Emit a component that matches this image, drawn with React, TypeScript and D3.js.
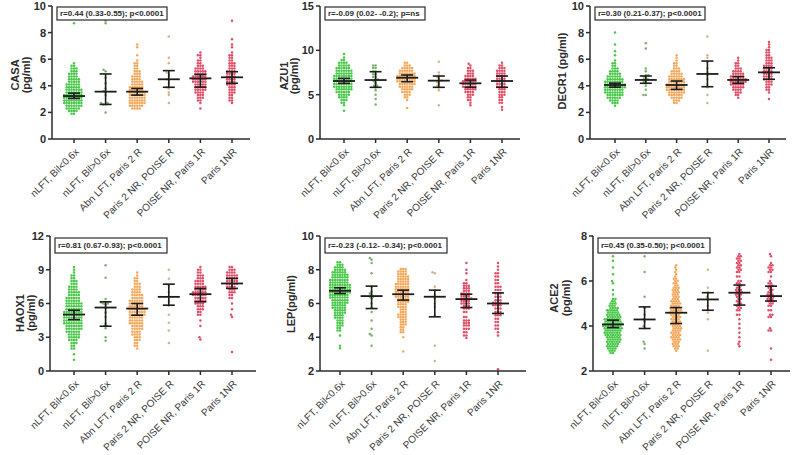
import React from "react";
import * as d3 from "d3";

type Entry = number | [number, number];

const GROUPS = [
  "nLFT, Bil<0.6x",
  "nLFT, Bil>0.6x",
  "Abn LFT, Paris 2 R",
  "Paris 2 NR, POISE R",
  "POISE NR, Paris 1R",
  "Paris 1NR",
];

// ---------- CASA ----------
const CASA_TICKS = [0, 2, 4, 6, 8, 10];
const CASA_STAT = "r=0.44 (0.33-0.55); p<0.0001";
const CASA_G1: Entry[] = [[1.9,2],[2.1,4],[2.3,6],[2.5,7],[2.7,8],[2.9,8],[3.1,8],[3.3,8],[3.5,7],[3.7,7],[3.9,6],[4.1,6],[4.3,5],[4.5,5],[4.7,4],[4.9,4],[5.1,3],[5.3,3],[5.5,2],[5.7,1],[8.7,1]];
const CASA_G2: Entry[] = [2.0, 2.6, 2.6, 2.7, 2.7, 3.3, 3.5, 3.6, 3.8, 4.2, 4.6, 5.1, 5.2, 8.7, 8.9];
const CASA_G3: Entry[] = [[2.3,4],[2.5,6],[2.7,7],[2.9,7],[3.1,7],[3.3,7],[3.5,7],[3.7,6],[3.9,6],[4.1,5],[4.3,5],[4.5,4],[4.7,4],[4.9,3],[5.1,3],[5.3,2],[5.5,2],[5.7,2],[5.9,1],[6.3,1],[6.9,1],[7.1,1]];
const CASA_G4: Entry[] = [2.7, 3.3, 3.5, 3.8, 3.9, 4.2, 4.4, 4.5, 4.7, 4.9, 5.0, 5.7, 6.1, 7.7];
const CASA_G5: Entry[] = [[2.3,1],[2.7,1],[2.9,2],[3.1,3],[3.3,3],[3.5,4],[3.7,5],[3.9,5],[4.1,5],[4.3,6],[4.5,6],[4.7,6],[4.9,5],[5.1,5],[5.3,4],[5.5,3],[5.7,2],[5.9,2],[6.1,1],[6.3,2],[6.5,1]];
const CASA_G6: Entry[] = [[2.7,1],[2.9,2],[3.1,2],[3.3,2],[3.5,3],[3.7,3],[3.9,3],[4.1,4],[4.3,4],[4.5,4],[4.7,4],[4.9,4],[5.1,4],[5.3,3],[5.5,3],[5.7,3],[5.9,2],[6.1,2],[6.3,2],[6.5,1],[6.9,1],[7.1,1],[7.5,1],[8.9,1]];
const CASA_MED = [3.23, 3.56, 3.56, 4.49, 4.56, 4.64];
const CASA_LO = [3.05, 2.6, 3.3, 3.89, 3.9, 4.19];
const CASA_HI = [3.45, 4.89, 3.8, 5.14, 4.85, 5.06];

// ---------- AZU1 ----------
const AZU1_TICKS = [0, 5, 10, 15];
const AZU1_STAT = "r=-0.09 (0.02- -0.2); p=ns";
const AZU1_G1: Entry[] = [[3.2,1],[3.8,1],[4.1,2],[4.4,3],[4.7,4],[5.0,5],[5.3,6],[5.6,7],[5.9,8],[6.2,8],[6.5,8],[6.8,8],[7.1,8],[7.4,7],[7.7,7],[8.0,6],[8.3,5],[8.6,4],[8.9,2],[9.2,1],[9.6,1]];
const AZU1_G2: Entry[] = [3.9, 4.5, 5.0, 5.5, 5.8, 6.0, 6.0, 6.3, 6.5, 6.7, 6.7, 7.0, 7.0, 7.3, 7.3, 7.6, 7.6, 8.0, 8.0, 8.3, 8.3];
const AZU1_G3: Entry[] = [[3.5,1],[4.4,1],[4.7,2],[5.0,3],[5.3,4],[5.6,5],[5.9,6],[6.2,7],[6.5,8],[6.8,8],[7.1,8],[7.4,7],[7.7,6],[8.0,5],[8.3,3],[8.6,2]];
const AZU1_G4: Entry[] = [3.8, 5.5, 5.8, 6.0, 6.2, 6.4, 6.5, 6.6, 6.8, 7.0, 7.2, 7.5, 8.7];
const AZU1_G5: Entry[] = [[3.8,1],[4.1,1],[4.4,2],[4.7,2],[5.0,3],[5.3,4],[5.6,5],[5.9,6],[6.2,6],[6.5,6],[6.8,5],[7.1,4],[7.4,3],[7.7,3],[8.0,2],[8.3,1],[8.5,1]];
const AZU1_G6: Entry[] = [[3.3,1],[3.6,1],[4.1,2],[4.4,2],[4.7,2],[5.0,3],[5.3,3],[5.6,3],[5.9,4],[6.2,4],[6.5,4],[6.8,4],[7.1,4],[7.4,4],[7.7,4],[8.0,3],[8.3,2],[8.6,1]];
const AZU1_MED = [6.54, 6.65, 6.91, 6.58, 6.28, 6.54];
const AZU1_LO = [6.28, 5.83, 6.46, 5.83, 5.83, 5.83];
const AZU1_HI = [6.84, 7.59, 7.22, 7.1, 6.65, 7.1];

// ---------- DECR1 ----------
const DECR1_TICKS = [0, 2, 4, 6, 8, 10];
const DECR1_STAT = "r=0.30 (0.21-0.37); p<0.0001";
const DECR1_G1: Entry[] = [[2.5,1],[2.7,3],[2.9,4],[3.1,6],[3.3,7],[3.5,8],[3.7,8],[3.9,9],[4.1,9],[4.3,8],[4.5,7],[4.7,6],[4.9,5],[5.1,4],[5.3,3],[5.5,2],[5.7,2],[5.9,1],[6.3,1],[6.6,1],[7.1,1],[8.0,1]];
const DECR1_G2: Entry[] = [3.3, 3.3, 3.7, 4.0, 4.2, 4.3, 4.4, 4.5, 4.5, 4.6, 4.7, 4.8, 4.8, 5.1, 5.3, 6.8, 7.2];
const DECR1_G3: Entry[] = [[2.7,2],[2.9,3],[3.1,5],[3.3,6],[3.5,7],[3.7,8],[3.9,8],[4.1,8],[4.3,7],[4.5,7],[4.7,6],[4.9,5],[5.1,4],[5.3,3],[5.5,2],[5.7,2],[5.9,1],[6.1,1],[6.3,1]];
const DECR1_G4: Entry[] = [2.7, 3.3, 3.9, 4.1, 4.5, 4.8, 5.0, 5.3, 5.8, 6.1, 6.3, 7.7];
const DECR1_G5: Entry[] = [[3.1,1],[3.3,2],[3.5,3],[3.7,4],[3.9,5],[4.1,6],[4.3,7],[4.5,7],[4.7,6],[4.9,5],[5.1,4],[5.3,3],[5.5,2],[5.7,2],[5.9,1],[6.1,1]];
const DECR1_G6: Entry[] = [[3.0,1],[3.5,1],[3.7,2],[3.9,2],[4.1,3],[4.3,3],[4.5,4],[4.7,4],[4.9,4],[5.1,4],[5.3,4],[5.5,4],[5.7,3],[5.9,3],[6.1,3],[6.3,2],[6.5,2],[6.7,2],[6.9,1],[7.1,1],[7.3,1]];
const DECR1_MED = [4.06, 4.44, 4.06, 4.89, 4.44, 5.01];
const DECR1_LO = [3.9, 4.19, 3.73, 3.93, 4.19, 4.49];
const DECR1_HI = [4.2, 4.74, 4.36, 5.86, 4.69, 5.36];

// ---------- HAOX1 ----------
const HAOX1_TICKS = [0, 3, 6, 9, 12];
const HAOX1_STAT = "r=0.81 (0.67-0.93); p<0.0001";
const HAOX1_G1: Entry[] = [[1.0,1],[1.5,1],[2.0,2],[2.25,2],[2.5,3],[2.75,4],[3.0,5],[3.25,5],[3.5,6],[3.75,7],[4.0,7],[4.25,8],[4.5,8],[4.75,8],[5.0,8],[5.25,8],[5.5,7],[5.75,7],[6.0,7],[6.25,6],[6.5,6],[6.75,5],[7.0,5],[7.25,4],[7.5,4],[7.75,3],[8.0,3],[8.25,2],[8.5,2],[8.75,1],[9.0,1],[9.25,1]];
const HAOX1_G2: Entry[] = [2.7, 3.0, 3.8, 4.0, 4.0, 4.2, 4.8, 5.2, 5.6, 5.9, 6.0, 6.0, 6.1, 6.4, 8.3, 9.4];
const HAOX1_G3: Entry[] = [[2.0,1],[2.25,2],[2.5,2],[2.75,3],[3.0,3],[3.25,4],[3.5,4],[3.75,5],[4.0,5],[4.25,6],[4.5,6],[4.75,6],[5.0,7],[5.25,7],[5.5,7],[5.75,6],[6.0,6],[6.25,6],[6.5,5],[6.75,5],[7.0,4],[7.25,4],[7.5,3],[7.75,3],[8.0,2],[8.25,2],[8.5,1],[8.75,1]];
const HAOX1_G4: Entry[] = [2.5, 3.6, 4.3, 5.0, 5.8, 6.2, 6.6, 7.0, 7.6, 8.2, 9.0];
const HAOX1_G5: Entry[] = [[2.8,1],[3.0,1],[4.0,1],[4.5,1],[5.0,2],[5.25,2],[5.5,3],[5.75,3],[6.0,4],[6.25,5],[6.5,5],[6.75,6],[7.0,6],[7.25,5],[7.5,5],[7.75,4],[8.0,4],[8.25,3],[8.5,3],[8.75,2],[9.0,2],[9.25,1]];
const HAOX1_G6: Entry[] = [[1.7,1],[4.8,1],[5.0,1],[5.5,1],[6.0,1],[6.5,2],[6.75,2],[7.0,3],[7.25,3],[7.5,4],[7.75,5],[8.0,5],[8.25,5],[8.5,5],[8.75,4],[9.0,3],[9.25,2]];
const HAOX1_MED = [5.02, 5.64, 5.55, 6.59, 6.83, 7.78];
const HAOX1_LO = [4.57, 3.98, 4.96, 5.85, 6.15, 7.34];
const HAOX1_HI = [5.4, 6.15, 6.0, 7.72, 7.34, 8.23];

// ---------- LEP ----------
const LEP_TICKS = [2, 4, 6, 8, 10];
const LEP_STAT = "r=-0.23 (-0.12- -0.34); p<0.0001";
const LEP_G1: Entry[] = [[3.35,1],[3.5,1],[4.1,1],[4.4,2],[4.55,2],[4.7,3],[4.85,3],[5.0,3],[5.15,4],[5.3,4],[5.45,5],[5.6,5],[5.75,6],[5.9,6],[6.05,7],[6.2,7],[6.35,8],[6.5,8],[6.65,9],[6.8,9],[6.95,9],[7.1,9],[7.25,8],[7.4,8],[7.55,7],[7.7,7],[7.85,6],[8.0,5],[8.15,4],[8.3,3],[8.45,2]];
const LEP_G2: Entry[] = [3.5, 4.1, 4.2, 4.5, 5.0, 5.5, 5.75, 6.0, 6.3, 6.4, 6.4, 6.5, 6.6, 6.7, 7.0, 7.8, 8.4, 8.6, 8.7];
const LEP_G3: Entry[] = [[3.15,1],[4.0,1],[4.3,2],[4.45,2],[4.6,2],[4.75,3],[4.9,3],[5.05,3],[5.2,4],[5.35,4],[5.5,3],[5.65,3],[5.8,4],[5.95,4],[6.1,5],[6.25,5],[6.4,6],[6.55,6],[6.7,6],[6.85,6],[7.0,6],[7.15,6],[7.3,5],[7.45,5],[7.6,5],[7.75,4],[7.9,4],[8.05,3]];
const LEP_G4: Entry[] = [2.6, 3.5, 5.3, 5.8, 6.0, 6.3, 6.5, 6.8, 7.0, 7.8, 7.85];
const LEP_G5: Entry[] = [[3.95,1],[4.1,2],[4.3,2],[4.5,3],[4.7,3],[4.85,3],[5.0,3],[5.2,2],[5.5,2],[5.7,3],[5.85,3],[6.0,4],[6.15,4],[6.3,5],[6.45,4],[6.6,4],[6.75,3],[6.9,3],[7.05,3],[7.2,2],[7.4,1],[7.8,1],[8.0,1],[8.4,1]];
const LEP_G6: Entry[] = [[2.1,1],[4.1,1],[4.3,1],[4.5,2],[4.7,2],[4.9,2],[5.1,2],[5.3,3],[5.5,3],[5.7,3],[5.9,4],[6.05,4],[6.2,3],[6.4,3],[6.6,3],[6.8,3],[7.0,3],[7.2,2],[7.4,2],[7.6,2],[7.8,2],[8.0,1],[8.2,1],[8.4,1]];
const LEP_MED = [6.75, 6.44, 6.55, 6.4, 6.26, 6.0];
const LEP_LO = [6.59, 5.7, 6.2, 5.21, 5.76, 5.41];
const LEP_HI = [6.93, 7.03, 6.79, 6.79, 6.55, 6.63];

// ---------- ACE2 ----------
const ACE2_TICKS = [2, 4, 6, 8];
const ACE2_STAT = "r=0.45 (0.35-0.50); p<0.0001";
const ACE2_G1: Entry[] = [[2.8,2],[2.9,3],[3.0,4],[3.1,5],[3.2,5],[3.3,6],[3.4,6],[3.5,6],[3.6,7],[3.7,7],[3.8,7],[3.9,8],[4.0,8],[4.1,8],[4.2,7],[4.3,7],[4.4,6],[4.5,6],[4.6,5],[4.7,5],[4.8,4],[4.9,3],[5.0,3],[5.1,2],[5.2,2],[5.4,1],[5.6,1],[5.9,1],[6.0,1],[6.3,1],[6.6,1],[6.9,1],[7.1,1],[7.3,1]];
const ACE2_G2: Entry[] = [3.0, 3.2, 3.3, 3.9, 4.0, 4.2, 4.3, 4.5, 4.8, 5.3, 6.4, 7.1];
const ACE2_G3: Entry[] = [[2.9,1],[3.0,2],[3.1,3],[3.2,3],[3.3,3],[3.4,4],[3.5,4],[3.6,4],[3.7,4],[3.8,4],[3.9,4],[4.0,4],[4.1,4],[4.2,4],[4.3,4],[4.4,4],[4.5,4],[4.6,5],[4.7,5],[4.8,5],[4.9,4],[5.0,4],[5.1,4],[5.2,3],[5.3,3],[5.4,3],[5.5,3],[5.6,3],[5.7,3],[5.8,2],[5.9,2],[6.0,2],[6.1,2],[6.2,1],[6.3,1],[6.4,1],[6.5,1],[6.6,1],[6.7,1]];
const ACE2_G4: Entry[] = [2.9, 4.3, 4.6, 4.9, 5.2, 5.3, 5.5, 5.7, 6.5];
const ACE2_G5: Entry[] = [[3.1,1],[3.2,1],[3.3,1],[3.5,1],[3.7,1],[3.9,1],[4.1,1],[4.3,1],[4.5,2],[4.7,2],[4.8,2],[4.9,2],[5.0,2],[5.1,2],[5.2,2],[5.3,2],[5.4,3],[5.5,3],[5.6,3],[5.7,2],[5.8,2],[5.9,2],[6.0,2],[6.2,2],[6.4,2],[6.5,2],[6.6,2],[6.7,2],[6.8,2],[6.9,2],[7.0,2],[7.1,2],[7.2,1]];
const ACE2_G6: Entry[] = [[2.5,1],[3.0,1],[3.8,2],[3.9,1],[4.4,2],[4.5,2],[4.7,2],[4.9,2],[5.0,2],[5.1,3],[5.2,3],[5.3,3],[5.4,3],[5.5,2],[5.6,2],[5.7,2],[5.8,2],[5.9,2],[6.0,1],[6.2,1],[6.4,2],[6.5,2],[6.6,2],[6.7,2],[6.8,1],[7.1,1],[7.2,1]];
const ACE2_MED = [4.07, 4.29, 4.59, 5.18, 5.48, 5.33];
const ACE2_LO = [3.93, 3.89, 4.11, 4.7, 4.93, 5.11];
const ACE2_HI = [4.26, 4.85, 4.82, 5.48, 5.82, 5.77];

// ---------- layout (styles only) ----------
const COLORS = ["#30c030", "#5c9e4c", "#f39c45", "#c4a070", "#dc3552", "#dc3552"];
const FONT = "'Liberation Sans', Arial, Helvetica, sans-serif";

interface Panel {
  title: string[];
  stat: string;
  ticks: number[];
  groups: Entry[][];
  med: number[];
  lo: number[];
  hi: number[];
  ax: number; xEnd: number; yTop: number; yBot: number;
  c0: number; c1: number;
  titleX: number[]; titleY: number;
  boxW: number; boxY: number; boxH: number;
}

const PANELS: Panel[] = [
  { title: ["CASA", "(pg/ml)"], stat: CASA_STAT, ticks: CASA_TICKS, groups: [CASA_G1, CASA_G2, CASA_G3, CASA_G4, CASA_G5, CASA_G6], med: CASA_MED, lo: CASA_LO, hi: CASA_HI,
    ax: 52, xEnd: 250, yTop: 6, yBot: 139, c0: 74, c1: 232, titleX: [15, 26], titleY: 75, boxW: 110, boxY: 7, boxH: 13 },
  { title: ["AZU1", "(pg/ml)"], stat: AZU1_STAT, ticks: AZU1_TICKS, groups: [AZU1_G1, AZU1_G2, AZU1_G3, AZU1_G4, AZU1_G5, AZU1_G6], med: AZU1_MED, lo: AZU1_LO, hi: AZU1_HI,
    ax: 320, xEnd: 520, yTop: 6, yBot: 139, c0: 344, c1: 502, titleX: [284, 294], titleY: 76, boxW: 100, boxY: 7, boxH: 13 },
  { title: ["DECR1 (pg/ml)"], stat: DECR1_STAT, ticks: DECR1_TICKS, groups: [DECR1_G1, DECR1_G2, DECR1_G3, DECR1_G4, DECR1_G5, DECR1_G6], med: DECR1_MED, lo: DECR1_LO, hi: DECR1_HI,
    ax: 590, xEnd: 786, yTop: 6, yBot: 139, c0: 615, c1: 769, titleX: [562], titleY: 71, boxW: 110, boxY: 7, boxH: 13 },
  { title: ["HAOX1", "(pg/ml)"], stat: HAOX1_STAT, ticks: HAOX1_TICKS, groups: [HAOX1_G1, HAOX1_G2, HAOX1_G3, HAOX1_G4, HAOX1_G5, HAOX1_G6], med: HAOX1_MED, lo: HAOX1_LO, hi: HAOX1_HI,
    ax: 50, xEnd: 256, yTop: 236, yBot: 371, c0: 74, c1: 232, titleX: [20, 31], titleY: 313, boxW: 112, boxY: 238, boxH: 15 },
  { title: ["LEP(pg/ml)"], stat: LEP_STAT, ticks: LEP_TICKS, groups: [LEP_G1, LEP_G2, LEP_G3, LEP_G4, LEP_G5, LEP_G6], med: LEP_MED, lo: LEP_LO, hi: LEP_HI,
    ax: 320, xEnd: 526, yTop: 236, yBot: 371, c0: 340, c1: 498, titleX: [291], titleY: 304, boxW: 122, boxY: 238, boxH: 15 },
  { title: ["ACE2", "(pg/ml)"], stat: ACE2_STAT, ticks: ACE2_TICKS, groups: [ACE2_G1, ACE2_G2, ACE2_G3, ACE2_G4, ACE2_G5, ACE2_G6], med: ACE2_MED, lo: ACE2_LO, hi: ACE2_HI,
    ax: 593, xEnd: 790, yTop: 236, yBot: 371, c0: 613, c1: 771, titleX: [554, 566], titleY: 298, boxW: 112, boxY: 238, boxH: 15 },
];

function expand(entries: Entry[]): number[] {
  const out: number[] = [];
  entries.forEach((e) => {
    if (typeof e === "number") out.push(e);
    else for (let i = 0; i < e[1]; i++) out.push(e[0]);
  });
  return out;
}

// deterministic beeswarm layout
function swarm(ys: number[], d: number): { y: number; dx: number }[] {
  const sorted = ys.slice().sort((a, b) => b - a);
  const placed: { y: number; dx: number }[] = [];
  sorted.forEach((y) => {
    const cands: number[] = [0];
    placed.forEach((q) => {
      const dy = Math.abs(q.y - y);
      if (dy < d) {
        const off = Math.sqrt(d * d - dy * dy);
        cands.push(q.dx + off, q.dx - off);
      }
    });
    cands.sort((a, b) => Math.abs(a) - Math.abs(b) || a - b);
    let chosen = 0;
    for (const c of cands) {
      let ok = true;
      for (const q of placed) {
        const dx = q.dx - c, dy = q.y - y;
        if (dx * dx + dy * dy < d * d - 1e-6) { ok = false; break; }
      }
      if (ok) { chosen = c; break; }
    }
    placed.push({ y, dx: chosen });
  });
  return placed;
}

function PanelView({ p }: { p: Panel }) {
  const dom = d3.extent(p.ticks) as [number, number];
  const y = d3.scaleLinear().domain(dom).range([p.yBot, p.yTop]);
  const x = d3.scalePoint<string>().domain(GROUPS).range([p.c0, p.c1]);
  const ink = "#2b2b2b";
  return (
    <g>
      {p.groups.map((g, gi) => {
        const cx = x(GROUPS[gi]) as number;
        const pts = swarm(expand(g).map((v) => y(v)), 2.45);
        return (
          <g key={"g" + gi} fill={COLORS[gi]} fillOpacity={gi === 1 || gi === 3 ? 0.8 : 0.88}>
            {pts.map((pt, i) => (
              <circle key={i} cx={cx + pt.dx} cy={pt.y} r={1.25} />
            ))}
          </g>
        );
      })}
      {GROUPS.map((gname, gi) => {
        const cx = x(gname) as number;
        return (
          <g key={"e" + gi} stroke="#1c1c1c" strokeWidth={1.6} fill="none">
            <line x1={cx} x2={cx} y1={y(p.lo[gi])} y2={y(p.hi[gi])} />
            <line x1={cx - 11} x2={cx + 11} y1={y(p.med[gi])} y2={y(p.med[gi])} strokeWidth={1.8} />
            <line x1={cx - 6} x2={cx + 6} y1={y(p.lo[gi])} y2={y(p.lo[gi])} />
            <line x1={cx - 6} x2={cx + 6} y1={y(p.hi[gi])} y2={y(p.hi[gi])} />
          </g>
        );
      })}
      <g stroke={ink} strokeWidth={1.5} fill="none">
        <line x1={p.ax} x2={p.ax} y1={p.yTop} y2={p.yBot} />
        <line x1={p.ax} x2={p.xEnd} y1={p.yBot} y2={p.yBot} />
        {p.ticks.map((t) => (
          <line key={t} x1={p.ax - 4} x2={p.ax} y1={y(t)} y2={y(t)} />
        ))}
        {GROUPS.map((gname) => (
          <line key={gname} x1={x(gname)} x2={x(gname)} y1={p.yBot} y2={p.yBot + 4} />
        ))}
      </g>
      {p.ticks.map((t) => (
        <text key={"t" + t} x={p.ax - 6} y={y(t)} dy="0.36em" textAnchor="end" fontSize={11} fontWeight="bold" fill={ink} fontFamily={FONT}>
          {t}
        </text>
      ))}
      {GROUPS.map((gname) => {
        const tx = (x(gname) as number) + 3;
        const ty = p.yBot + 11;
        return (
          <text key={"l" + gname} transform={`translate(${tx},${ty}) rotate(-45)`} textAnchor="end" dy="0.35em" fontSize={10} fill="#3a3a3a" fontFamily={FONT}>
            {gname}
          </text>
        );
      })}
      {p.title.map((line, i) => (
        <text key={"ti" + i} transform={`translate(${p.titleX[i]},${p.titleY}) rotate(-90)`} textAnchor="middle" dy="0.36em" fontSize={11} fontWeight="bold" fill={ink} fontFamily={FONT}>
          {line}
        </text>
      ))}
      <rect x={p.ax + 5} y={p.boxY} width={p.boxW} height={p.boxH} fill="#fff" stroke={ink} strokeWidth={1.2} />
      <text x={p.ax + 8} y={p.boxY + p.boxH / 2} dy="0.35em" fontSize={8} fontWeight="bold" fill={ink} fontFamily={FONT}>
        {p.stat}
      </text>
    </g>
  );
}

export default function App() {
  return (
    <svg width={795} height={455} style={{ position: "absolute", left: 0, top: 0, background: "#fff" }}>
      <rect width={795} height={455} fill="#fff" />
      {PANELS.map((p, i) => (
        <PanelView key={i} p={p} />
      ))}
    </svg>
  );
}
